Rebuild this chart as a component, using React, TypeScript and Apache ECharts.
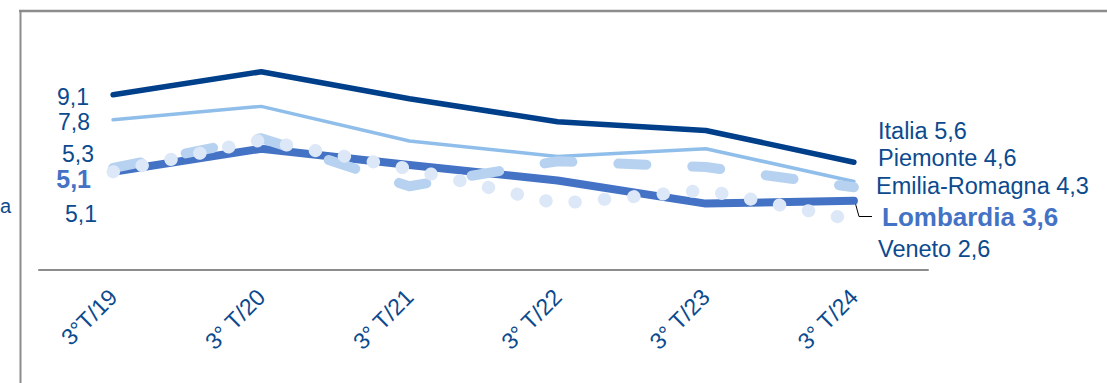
import React, { useEffect, useRef } from "react";
import * as echarts from "echarts";

const categories = ["3°T/19", "3° T/20", "3° T/21", "3° T/22", "3° T/23", "3° T/24"];
const seriesNames = ["Italia", "Piemonte", "Emilia-Romagna", "Lombardia", "Veneto"];
const italia = [9.1, 10.3, 8.9, 7.7, 7.25, 5.6];
const piemonte = [7.8, 8.5, 6.7, 5.9, 6.3, 4.6];
const emiliaRomagna = [5.3, 6.85, 4.35, 5.65, 5.35, 4.3];
const lombardia = [5.1, 6.3, 5.45, 4.65, 3.45, 3.6];
const veneto = [5.1, 6.75, 5.25, 3.45, 4.15, 2.6];

const TEXT = "#0c4a8e";
const FONT = "Liberation Sans, Arial, sans-serif";

const fmt = (v: number) => v.toFixed(1).replace(".", ",");

export default function App() {
  const ref = useRef<HTMLDivElement>(null);
  useEffect(() => {
    if (!ref.current) return;
    const chart = echarts.init(ref.current, null, { renderer: "svg" });
    const data = [italia, piemonte, emiliaRomagna, lombardia, veneto];
    const startPos = [
      [89, 97],
      [90, 121.5],
      [94, 154],
      [91, 179],
      [97, 214],
    ];
    const endPos = [
      [878, 131],
      [878, 158],
      [876, 186],
      [882, 217],
      [878, 249],
    ];
    const graphics: any[] = [
      { type: "line", shape: { x1: 19, y1: 11, x2: 1107, y2: 11 }, style: { stroke: "#8c8c8c", lineWidth: 2.5 } },
      { type: "line", shape: { x1: 20.5, y1: 10, x2: 20.5, y2: 383 }, style: { stroke: "#8c8c8c", lineWidth: 2 } },
      {
        type: "text",
        x: 0,
        y: 206,
        style: { text: "a", fill: TEXT, fontSize: 20, fontFamily: FONT, align: "left", verticalAlign: "middle" },
      },
      {
        type: "polyline",
        shape: { points: [[855, 202], [859, 216.5], [872, 216.5]] },
        style: { stroke: "#000", lineWidth: 1, fill: null },
      },
    ];
    data.forEach((arr, i) => {
      const isLomb = i === 3;
      graphics.push({
        type: "text",
        x: startPos[i][0],
        y: startPos[i][1],
        style: {
          text: fmt(arr[0]),
          fill: isLomb ? "#4472c4" : TEXT,
          fontSize: isLomb ? 25 : 23,
          fontWeight: isLomb ? "bold" : "normal",
          fontFamily: FONT,
          align: "right",
          verticalAlign: "middle",
        },
      });
      graphics.push({
        type: "text",
        x: endPos[i][0],
        y: endPos[i][1],
        style: {
          text: seriesNames[i] + " " + fmt(arr[arr.length - 1]),
          fill: isLomb ? "#4472c4" : TEXT,
          fontSize: isLomb ? 26 : 23.5,
          fontWeight: isLomb ? "bold" : "normal",
          fontFamily: FONT,
          align: "left",
          verticalAlign: "middle",
        },
      });
    });

    chart.setOption({
      animation: false,
      grid: { left: 39, right: 179, top: 39, bottom: 113 },
      xAxis: {
        type: "category",
        data: categories,
        boundaryGap: true,
        axisLine: { lineStyle: { color: "#8c8c8c", width: 2 } },
        axisTick: { show: false },
        axisLabel: {
          interval: 0,
          rotate: 45,
          margin: 23,
          fontSize: 23,
          color: TEXT,
          fontFamily: FONT,
        },
      },
      yAxis: {
        type: "value",
        min: 0,
        max: 12,
        show: false,
        splitLine: { show: false },
      },
      series: [
        {
          name: seriesNames[1],
          type: "line",
          data: piemonte,
          showSymbol: false,
          symbol: "none",
          lineStyle: { color: "#90beea", width: 3.5, cap: "round" },
          z: 2,
        },
        {
          name: seriesNames[0],
          type: "line",
          data: italia,
          showSymbol: false,
          symbol: "none",
          lineStyle: { color: "#003f8a", width: 5.5, cap: "round", join: "round" },
          z: 3,
        },
        {
          name: seriesNames[3],
          type: "line",
          data: lombardia,
          showSymbol: false,
          symbol: "none",
          lineStyle: { color: "#4472c4", width: 8, cap: "round", join: "round" },
          z: 4,
        },
        {
          name: seriesNames[2],
          type: "line",
          data: emiliaRomagna,
          showSymbol: false,
          symbol: "none",
          lineStyle: { color: "#b7d2f0", width: 10, cap: "round", join: "round", type: [28, 46] },
          z: 5,
        },
        {
          name: seriesNames[4],
          type: "line",
          data: veneto,
          showSymbol: false,
          symbol: "none",
          lineStyle: { color: "#dce8f8", width: 13, cap: "round", join: "round", type: [0.5, 29] },
          z: 6,
        },
      ],
      graphic: graphics,
    });
    return () => chart.dispose();
  }, []);
  return (
    <div
      ref={ref}
      style={{ position: "fixed", left: 0, top: 0, width: 1107, height: 383, background: "#fff" }}
    />
  );
}
